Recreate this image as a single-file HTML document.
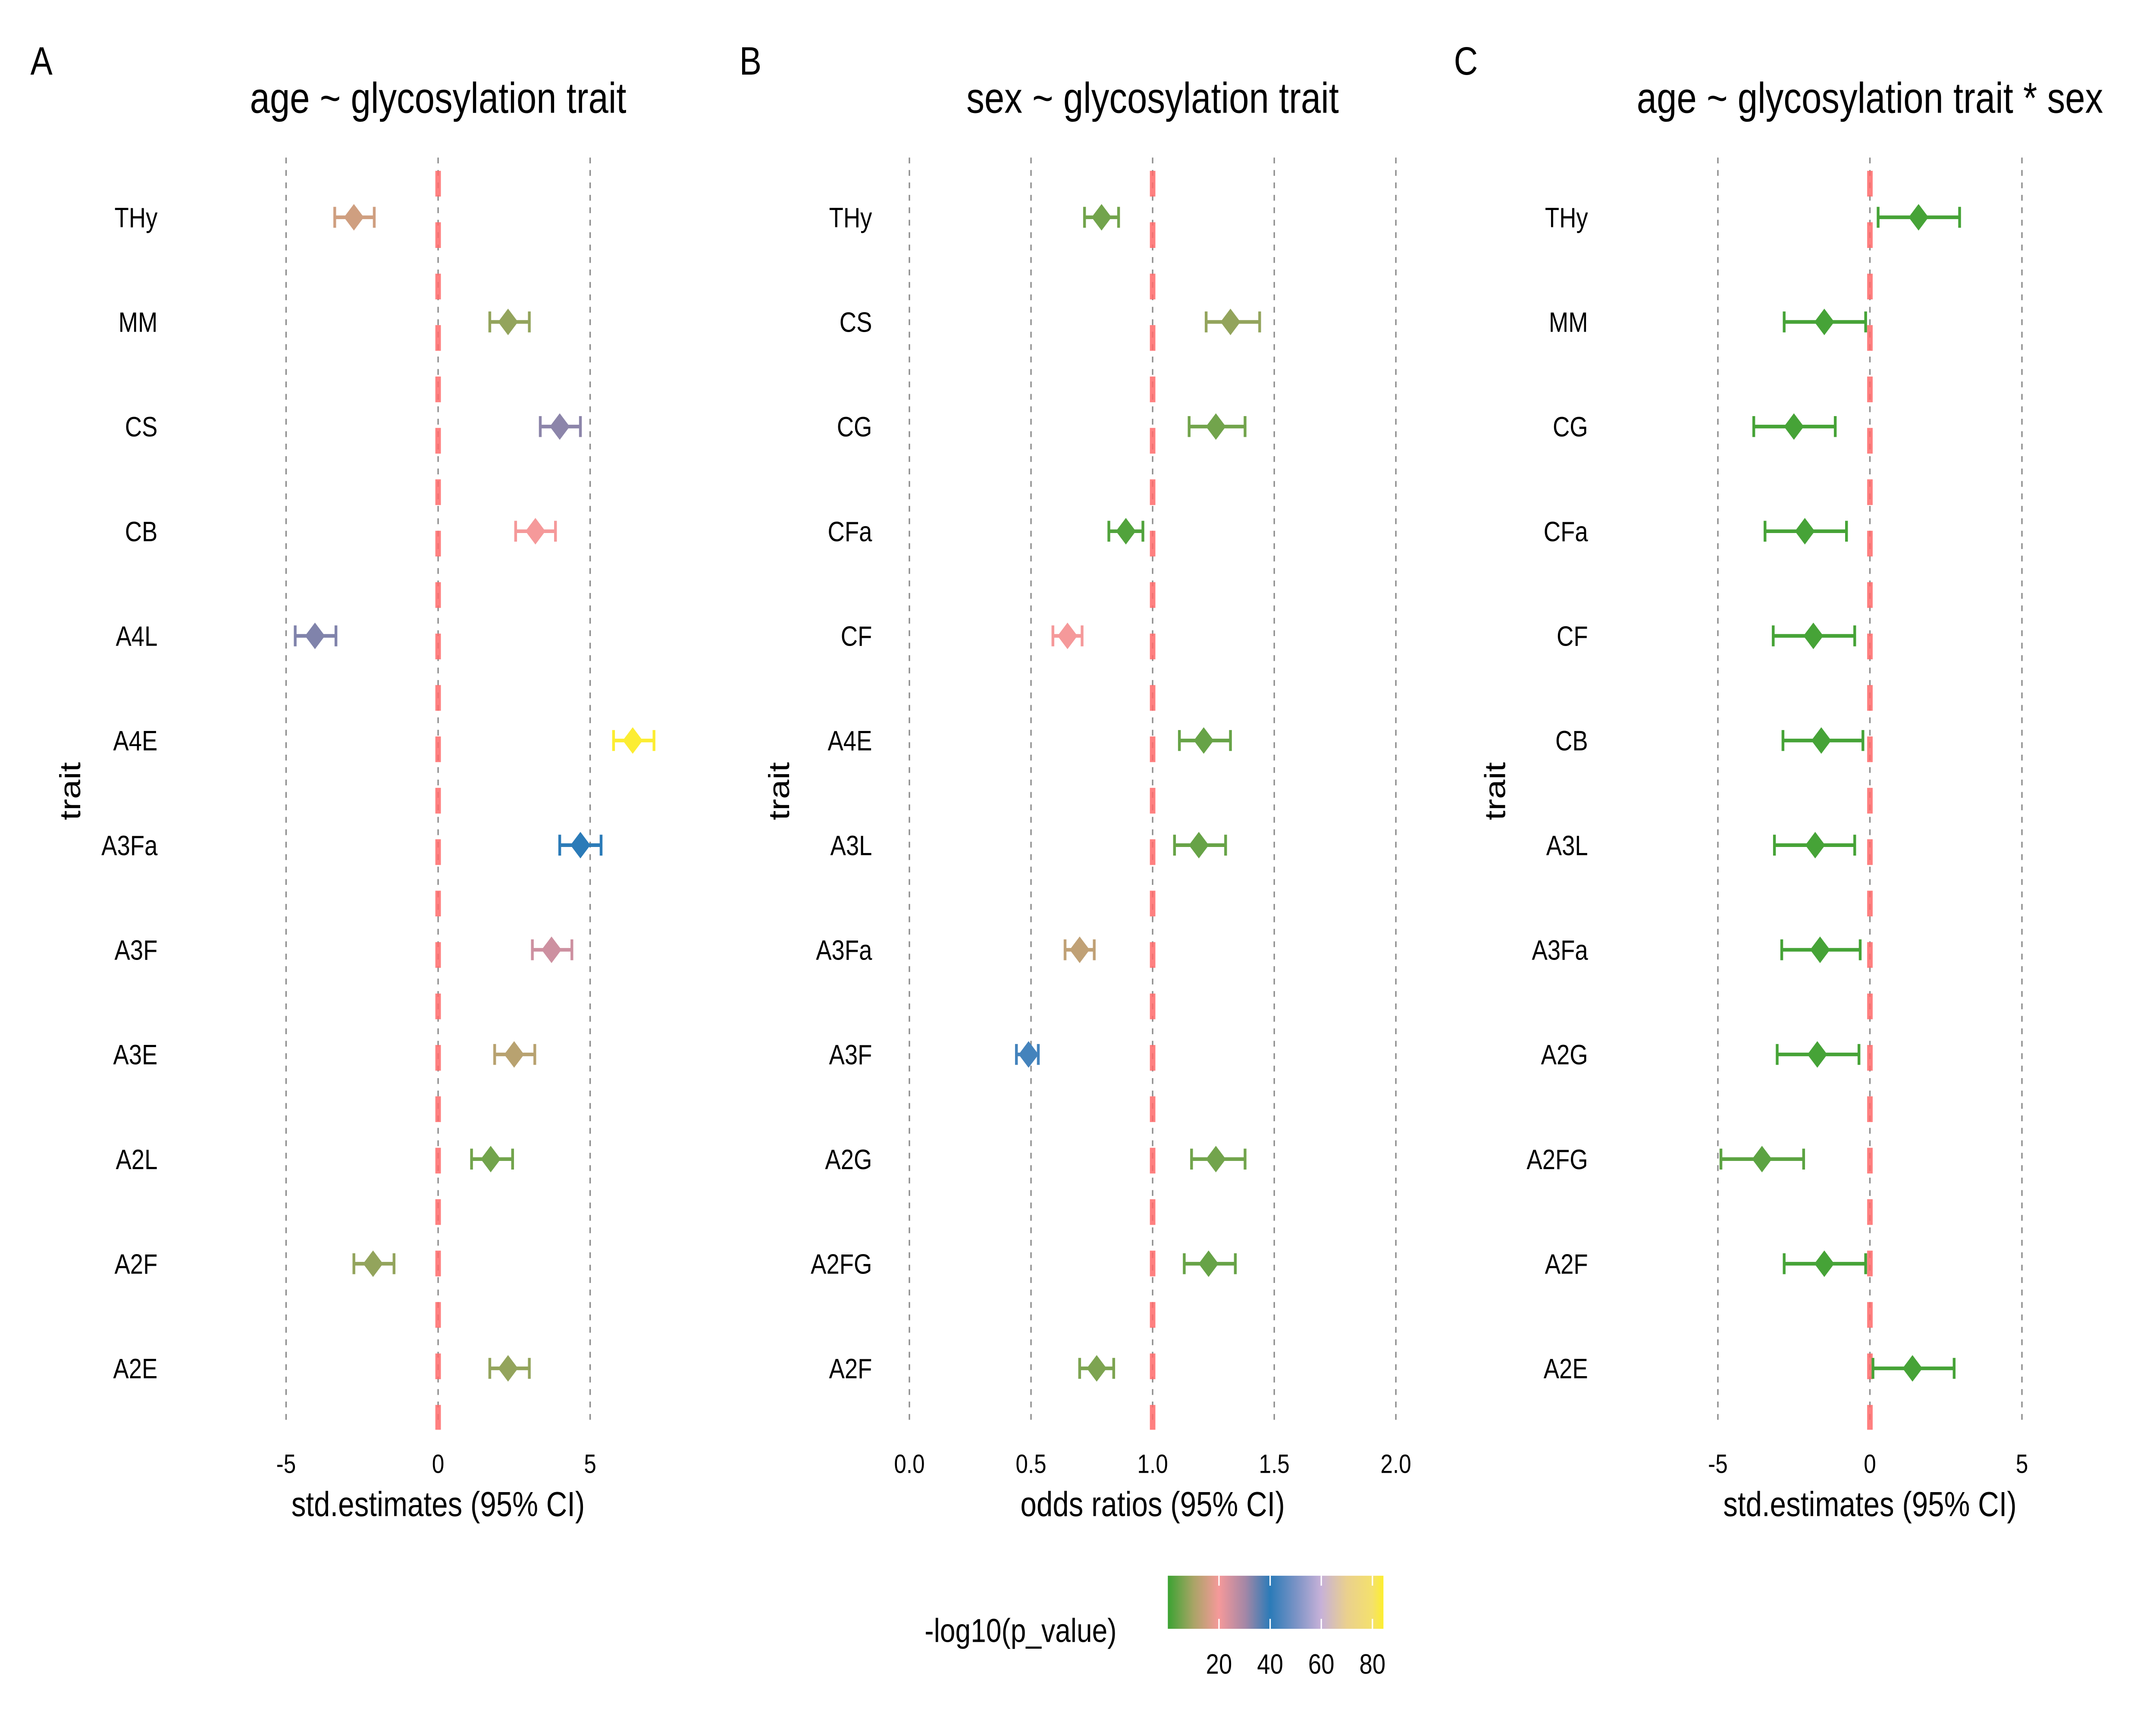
<!DOCTYPE html>
<html><head><meta charset="utf-8">
<style>
html,body{margin:0;padding:0;background:#fff;width:100%;height:100%;overflow:hidden;}
svg{display:block;width:100vw;height:100vh;}
text{font-family:"Liberation Sans",Arial,sans-serif;fill:#000;}
</style></head>
<body>
<svg id="chart" viewBox="0 0 1560 1040" preserveAspectRatio="none" xmlns="http://www.w3.org/2000/svg">
<defs>
<linearGradient id="pgrad" x1="0" x2="1" y1="0" y2="0">
<stop offset="0" stop-color="#3ba332"/>
<stop offset="0.119" stop-color="#a9a466"/>
<stop offset="0.237" stop-color="#f5999a"/>
<stop offset="0.36" stop-color="#a487a6"/>
<stop offset="0.474" stop-color="#2b7bb8"/>
<stop offset="0.6" stop-color="#7e94c6"/>
<stop offset="0.711" stop-color="#c7b1d8"/>
<stop offset="0.83" stop-color="#ead08e"/>
<stop offset="0.949" stop-color="#f4e16c"/>
<stop offset="1" stop-color="#fdee2e"/>
</linearGradient>
</defs>
<text x="669" y="990" font-size="20">-log10(p_value)</text>
<rect x="845" y="950" width="156" height="32" fill="url(#pgrad)"/>
<g id="legendticks"></g>
</svg>
<script>
// ---------- data ----------
const traitsA = ["THy","MM","CS","CB","A4L","A4E","A3Fa","A3F","A3E","A2L","A2F","A2E"];
const estA = [-2.77,2.3,4.0,3.2,-4.05,6.4,4.68,3.73,2.5,1.73,-2.14,2.3];
const loA  = [-3.4,1.7,3.36,2.55,-4.7,5.77,4.0,3.1,1.86,1.1,-2.77,1.7];
const hiA  = [-2.1,3.0,4.68,3.86,-3.36,7.1,5.36,4.4,3.18,2.45,-1.45,3.0];
const pA   = [15,8,32,20,33,84,40,25,12,5,8,8];

const traitsB = ["THy","CS","CG","CFa","CF","A4E","A3L","A3Fa","A3F","A2G","A2FG","A2F"];
const estB = [0.79,1.32,1.26,0.89,0.65,1.21,1.19,0.70,0.49,1.26,1.23,0.77];
const loB  = [0.72,1.22,1.15,0.82,0.59,1.11,1.09,0.64,0.44,1.16,1.13,0.70];
const hiB  = [0.86,1.44,1.38,0.96,0.71,1.32,1.30,0.76,0.53,1.38,1.34,0.84];
const pB   = [5,8,5,2,20,4,4,13,43,5,4,6];

const traitsC = ["THy","MM","CG","CFa","CF","CB","A3L","A3Fa","A2G","A2FG","A2F","A2E"];
const estC = [1.6,-1.5,-2.5,-2.14,-1.86,-1.6,-1.8,-1.64,-1.73,-3.55,-1.5,1.4];
const loC  = [0.27,-2.82,-3.82,-3.45,-3.18,-2.86,-3.14,-2.9,-3.05,-4.9,-2.82,0.1];
const hiC  = [2.95,-0.14,-1.14,-0.77,-0.5,-0.23,-0.5,-0.32,-0.36,-2.18,-0.14,2.77];
const pC   = [1,1,1,1,1,1,1,1,1,3,1,1];

const ticksA = [-5,0,5];
const ticksB = [0.0,0.5,1.0,1.5,2.0];
const tickLabelsB = ["0.0","0.5","1.0","1.5","2.0"];
const ticksC = [-5,0,5];
const legendTicks = [20,40,60,80];

// ---------- helpers ----------
const NS="http://www.w3.org/2000/svg";
const svg=document.getElementById('chart');
function mk(tag,attrs,parent){const e=document.createElementNS(NS,tag);for(const k in attrs)e.setAttribute(k,attrs[k]);(parent||svg).appendChild(e);return e;}
const stops=[[0,[59,163,50]],[10,[169,164,102]],[20,[245,153,154]],[30,[164,135,166]],[40,[43,123,184]],[50,[126,148,198]],[60,[199,177,216]],[70,[234,208,142]],[80,[244,225,108]],[84.3,[253,238,46]]];
function pcol(v){for(let i=0;i<stops.length-1;i++){const a=stops[i],b=stops[i+1];if(v<=b[0]){const t=Math.max(0,(v-a[0])/(b[0]-a[0]));const c=a[1].map((x,j)=>Math.round(x+(b[1][j]-x)*t));return `rgb(${c})`;}}return 'rgb(253,238,46)';}
const rowY=i=>131+i*63.09;

function panel(cfg){
  const g=mk('g',{});
  
  
  const xs=v=>cfg.x0+(v-cfg.v0)*cfg.k;
  const L=mk('text',{x:cfg.letterX,y:45,'font-size':24},g);L.textContent=cfg.letter;
  
  
  const T=mk('text',{x:cfg.center,y:68,'font-size':26,'text-anchor':'middle'},g);T.textContent=cfg.title;
  
  
  cfg.ticks.forEach((t,i)=>{
    const x=xs(t);
    if(!cfg.refs.includes(t)){
      const l=mk('line',{x1:x,x2:x,y1:95,y2:860,stroke:'#8a8a8a','stroke-width':1,'stroke-dasharray':'3.5 4'},g);
      
      
    }
    const tl=mk('text',{x:x,y:888,'font-size':16,'text-anchor':'middle'},g);
    tl.textContent=cfg.tickLabels?cfg.tickLabels[i]:String(t);
    
    
  });
  cfg.refs.forEach(r=>{
    const x=xs(r);
    const l0=mk('line',{x1:x,x2:x,y1:95,y2:860,stroke:'#8a8a8a','stroke-width':1,'stroke-dasharray':'3.5 4'},g);
    
    
    const l=mk('line',{x1:x,x2:x,y1:103,y2:862,stroke:'#ff6a6a','stroke-opacity':0.85,'stroke-width':4,'stroke-dasharray':'15.5 15.5'},g);
    
    
  });
  cfg.traits.forEach((t,i)=>{
    const tx=mk('text',{x:cfg.labelX,y:rowY(i)+6,'font-size':17,'text-anchor':'end'},g);tx.textContent=t;
    
    
  });
  const yt=mk('text',{x:0,y:0,'font-size':21,'text-anchor':'middle',transform:`translate(${cfg.traitX},477) rotate(-90)`},g);yt.textContent='trait';
  
  
  const xt=mk('text',{x:cfg.center,y:914,'font-size':21,'text-anchor':'middle'},g);xt.textContent=cfg.xtitle;
  
  
  cfg.est.forEach((e,i)=>{
    const y=rowY(i),c=pcol(cfg.p[i]),x=xs(e),a=xs(cfg.lo[i]),b=xs(cfg.hi[i]);
    const pg=mk('g',{},g);
    
    
    mk('line',{x1:a,x2:b,y1:y,y2:y,stroke:c,'stroke-width':2.2},pg);
    mk('line',{x1:a,x2:a,y1:y-6.3,y2:y+6.3,stroke:c,'stroke-width':2},pg);
    mk('line',{x1:b,x2:b,y1:y-6.3,y2:y+6.3,stroke:c,'stroke-width':2},pg);
    mk('polygon',{points:`${x},${y-8} ${x+7.2},${y} ${x},${y+8} ${x-7.2},${y}`,fill:c},pg);
  });
}
panel({name:'panel-a',letter:'A',letterX:22,title:'age ~ glycosylation trait',center:317,x0:317,v0:0,k:22,ticks:ticksA,refs:[0],traits:traitsA,est:estA,lo:loA,hi:hiA,p:pA,labelX:114,traitX:58,xtitle:'std.estimates (95% CI)'});
panel({name:'panel-b',letter:'B',letterX:535,title:'sex ~ glycosylation trait',center:834,x0:658,v0:0,k:176,ticks:ticksB,tickLabels:tickLabelsB,refs:[1.0],traits:traitsB,est:estB,lo:loB,hi:hiB,p:pB,labelX:631,traitX:571,xtitle:'odds ratios (95% CI)'});
panel({name:'panel-c',letter:'C',letterX:1052,title:'age ~ glycosylation trait * sex',center:1353,x0:1353,v0:0,k:22,ticks:ticksC,refs:[0],traits:traitsC,est:estC,lo:loC,hi:hiC,p:pC,labelX:1149,traitX:1089,xtitle:'std.estimates (95% CI)'});

const lg=document.getElementById('legendticks');
const lx=v=>845+v*(156/84.3);
legendTicks.forEach(v=>{
  const x=lx(v);
  const t1=mk('line',{x1:x,x2:x,y1:950,y2:956,stroke:'#fff','stroke-width':1},lg);
  
  
  const t2=mk('line',{x1:x,x2:x,y1:976,y2:982,stroke:'#fff','stroke-width':1},lg);
  
  
  const tx=mk('text',{x:x,y:1009,'font-size':17,'text-anchor':'middle'},lg);tx.textContent=String(v);
  
  
});
</script>
</body></html>
